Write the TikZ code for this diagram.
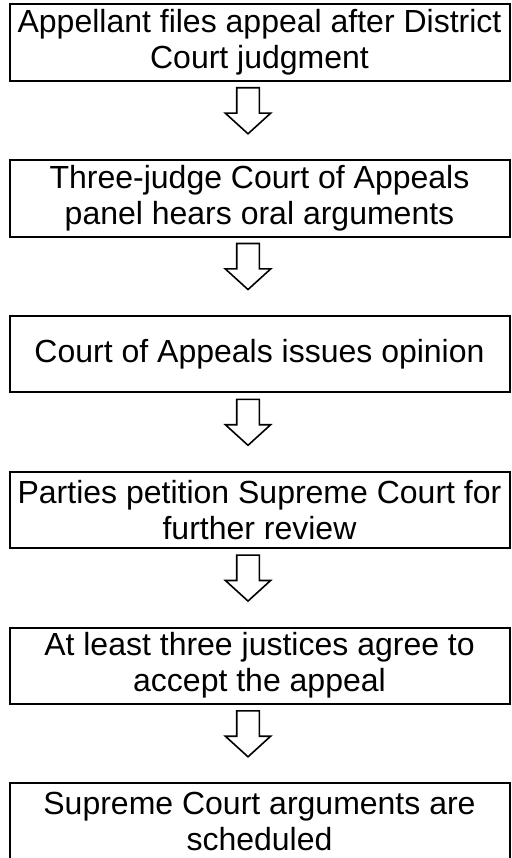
\documentclass[tikz,border=0pt]{standalone}
\usepackage{fontspec}
\setmainfont{Liberation Sans}
\usetikzlibrary{calc}
\begin{document}
\begin{tikzpicture}[x=1pt,y=1pt,
  stepbox/.style={draw, line width=2pt, minimum width=500pt, minimum height=76.3pt,
    inner sep=0pt, outer sep=0pt, align=center,
    font=\fontsize{32}{36}\selectfont},
  blockarrow/.style={draw, line width=1.6pt, line join=miter, fill=white}]
\useasboundingbox (0,0) rectangle (511,-858);
\node[stepbox] (s1) at (259.5,-42.65) {Appellant files appeal after District\\Court judgment};
\node[stepbox] (s2) at (259.5,-198.4) {Three-judge Court of Appeals\\panel hears oral arguments};
\node[stepbox] (s3) at (259.5,-354.15) {Court of Appeals issues opinion};
\node[stepbox] (s4) at (259.5,-509.9) {Parties petition Supreme Court for\\further review};
\node[stepbox] (s5) at (259.5,-665.65) {At least three justices agree to\\accept the appeal};
\node[stepbox] (s6) at (259.5,-821.4) {Supreme Court arguments are\\scheduled};
\foreach \a in {s1,s2,s3,s4,s5}{
  \draw[blockarrow] ($(\a.south)+(-22.8,-7)$) -- ++(22.6,0) -- ++(0,-25.4)
    -- ++(11.35,0) -- ++(-22.65,-20.6) -- ++(-22.65,20.6) -- ++(11.35,0) -- cycle;
}
\end{tikzpicture}
\end{document}
